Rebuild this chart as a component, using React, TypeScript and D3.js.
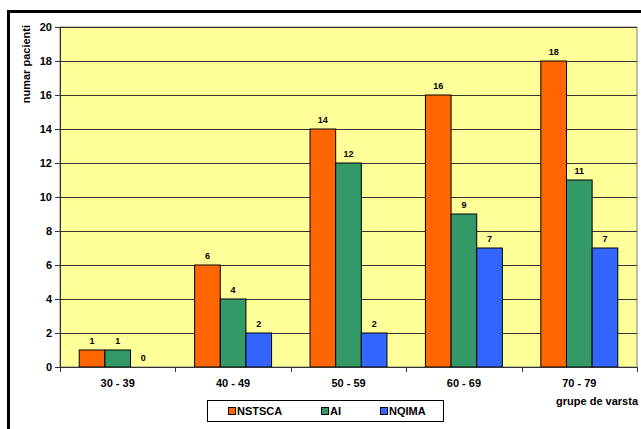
import React from "react";
import * as d3 from "d3";

const categories = ["30 - 39", "40 - 49", "50 - 59", "60 - 69", "70 - 79"];
const seriesNames = ["NSTSCA", "AI", "NQIMA"];
const nstsca = [1, 6, 14, 16, 18];
const ai = [1, 4, 12, 9, 11];
const nqima = [0, 2, 2, 7, 7];
const yTicks = [0, 2, 4, 6, 8, 10, 12, 14, 16, 18, 20];
const colors = ["#FF6600", "#339966", "#3366FF"];

const W = 641;
const H = 429;
const plot = { left: 60, right: 637, top: 27, bottom: 367 };
const font = "Arial, 'Liberation Sans', sans-serif";

export default function App() {
  const series = [nstsca, ai, nqima];
  const x = d3.scaleBand<string>().domain(categories).range([plot.left, plot.right]).paddingInner(0).paddingOuter(0);
  const bw = x.bandwidth();
  const barW = bw / 4.5;
  const groupOffset = (bw - barW * 3) / 2;
  const y = d3.scaleLinear().domain([0, 20]).range([plot.bottom, plot.top]);

  return (
    <svg
      width={W}
      height={H}
      style={{ position: "absolute", left: 0, top: 0, display: "block", background: "#fff" }}
      fontFamily={font}
    >
      <rect x={0} y={0} width={W} height={H} fill="#fff" />
      {/* outer frame */}
      <line x1={8.5} y1={11.5} x2={W} y2={11.5} stroke="#000" strokeWidth={3} />
      <line x1={8.5} y1={10} x2={8.5} y2={H} stroke="#000" strokeWidth={3} />

      {/* plot area */}
      <rect x={plot.left} y={plot.top} width={plot.right - plot.left} height={plot.bottom - plot.top} fill="#FFFF99" stroke="#808080" strokeWidth={1} />

      {/* gridlines and y ticks */}
      {yTicks.map((t) => (
        <g key={t}>
          {t > 0 && (
            <line x1={plot.left} x2={plot.right} y1={Math.round(y(t)) + 0.5} y2={Math.round(y(t)) + 0.5} stroke="#333" strokeWidth={1} />
          )}
          <line x1={plot.left - 5} x2={plot.left} y1={Math.round(y(t)) + 0.5} y2={Math.round(y(t)) + 0.5} stroke="#333" />
          <text x={plot.left - 8} y={y(t)} dy="0.35em" textAnchor="end" fontSize={11} fontWeight="bold" fill="#000">
            {t}
          </text>
        </g>
      ))}

      {/* bars */}
      {categories.map((c, i) => (
        <g key={c}>
          {series.map((s, j) => {
            const bx = (x(c) as number) + groupOffset + j * barW;
            const v = s[i];
            const top = y(v);
            return (
              <g key={j}>
                {v > 0 && (
                  <rect x={bx} y={top} width={barW} height={plot.bottom - top} fill={colors[j]} stroke="#000" strokeWidth={1} />
                )}
                <text x={bx + barW / 2} y={top - 6.5} textAnchor="middle" fontSize={9} fontWeight="bold" fill="#000">
                  {v}
                </text>
              </g>
            );
          })}
        </g>
      ))}

      {/* axes */}
      <line x1={plot.left + 0.5} x2={plot.left + 0.5} y1={plot.top} y2={plot.bottom} stroke="#333" />
      <line x1={plot.left} x2={plot.right} y1={plot.bottom + 0.5} y2={plot.bottom + 0.5} stroke="#333" />
      {[...categories.map((c) => x(c) as number), plot.right].map((px, i) => (
        <line key={i} x1={Math.round(px) + 0.5} x2={Math.round(px) + 0.5} y1={plot.bottom} y2={plot.bottom + 5} stroke="#333" />
      ))}
      {categories.map((c) => (
        <text key={c} x={(x(c) as number) + bw / 2} y={386.5} textAnchor="middle" fontSize={11} fontWeight="bold" fill="#000">
          {c}
        </text>
      ))}

      {/* axis titles */}
      <text x={638} y={404.5} textAnchor="end" fontSize={11} fontWeight="bold" fill="#000">
        grupe de varsta
      </text>
      <text transform="translate(30,25) rotate(-90)" textAnchor="end" fontSize={11} fontWeight="bold" fill="#000">
        numar pacienti
      </text>

      {/* legend */}
      <rect x={207.5} y={400.5} width={236} height={21} fill="#fff" stroke="#000" strokeWidth={1} />
      {seriesNames.map((n, j) => {
        const lx = [228, 321, 380][j];
        return (
          <g key={n}>
            <rect x={lx + 0.5} y={407.5} width={7} height={7} fill={colors[j]} stroke="#000" strokeWidth={1} />
            <text x={lx + 9} y={411} dy="0.35em" fontSize={11} fontWeight="bold" fill="#000">
              {n}
            </text>
          </g>
        );
      })}
    </svg>
  );
}
